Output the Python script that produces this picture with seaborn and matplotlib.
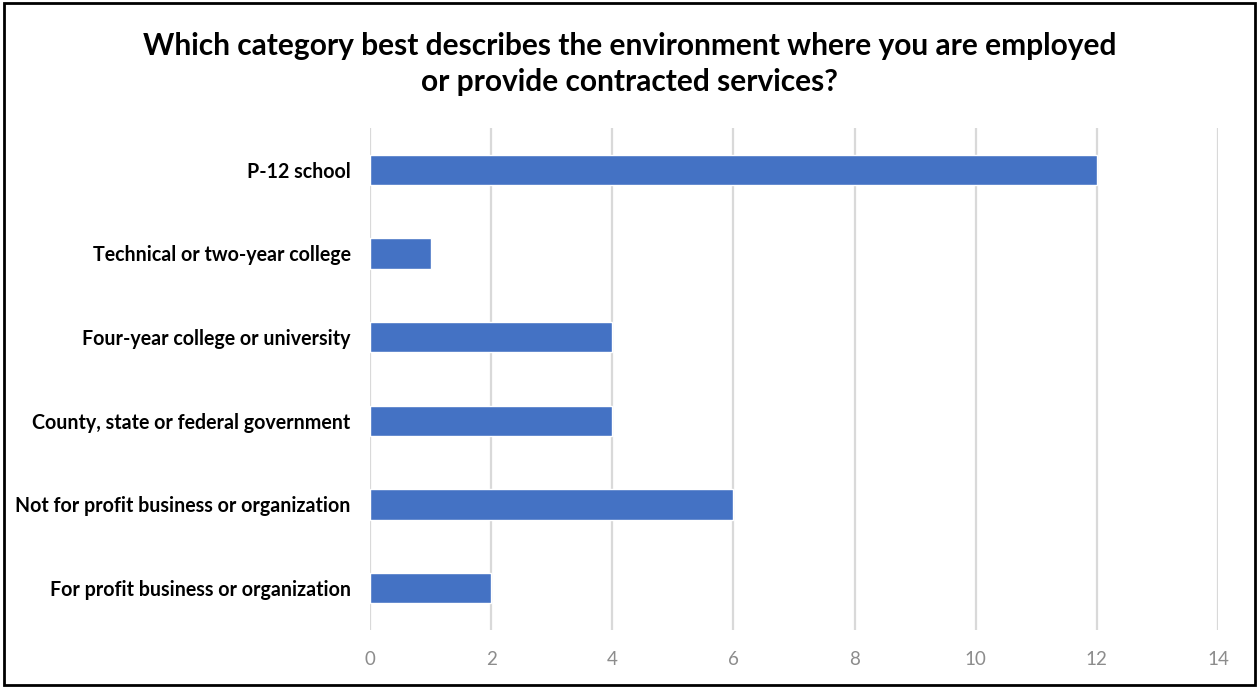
import matplotlib
matplotlib.use("Agg")
import matplotlib.pyplot as plt
import seaborn as sns
import pandas as pd
from matplotlib.patches import Rectangle

categories = [
    "P-12 school",
    "Technical or two-year college",
    "Four-year college or university",
    "County, state or federal government",
    "Not for profit business or organization",
    "For profit business or organization",
]
counts = [12, 1, 4, 4, 6, 2]
x_ticks = [0, 2, 4, 6, 8, 10, 12, 14]
title = "Which category best describes the environment where you are employed\nor provide contracted services?"

sns.set_theme(style="white")
plt.rcParams["font.family"] = ["Lato", "DejaVu Sans"]

df = pd.DataFrame({"category": categories, "count": counts})

fig = plt.figure(figsize=(12.59, 6.88), dpi=100)
ax = fig.add_axes([0.2939, 0.0843, 0.6735, 0.7297])

sns.barplot(data=df, y="category", x="count", orient="h", color="#4472C4",
            saturation=1, width=0.36, ax=ax, zorder=3)

ax.set_xlim(0, 14)
ax.set_ylim(5.5, -0.5)
ax.set_xticks(x_ticks)
ax.set_xticklabels([str(t) for t in x_ticks], color="#8C8C8C", fontsize=13.5)
ax.tick_params(axis="x", length=0, pad=15)
ax.tick_params(axis="y", length=0, pad=14)
for lbl in ax.get_yticklabels():
    lbl.set_fontweight("bold")
    lbl.set_fontsize(14.1)
    lbl.set_color("black")
ax.grid(axis="x", color="#D9D9D9", linewidth=1.6, zorder=0)
ax.grid(axis="y", visible=False)
for s in ax.spines.values():
    s.set_visible(False)
ax.set_xlabel("")
ax.set_ylabel("")

fig.text(0.5, 0.907, title, ha="center", va="center", fontsize=21.5,
         fontweight="bold", color="black", linespacing=1.35)

fig.patches.append(Rectangle((0.003, 0.004), 0.994, 0.992, transform=fig.transFigure,
                             fill=False, edgecolor="black", linewidth=2))

fig.savefig("out.png", dpi=100)
